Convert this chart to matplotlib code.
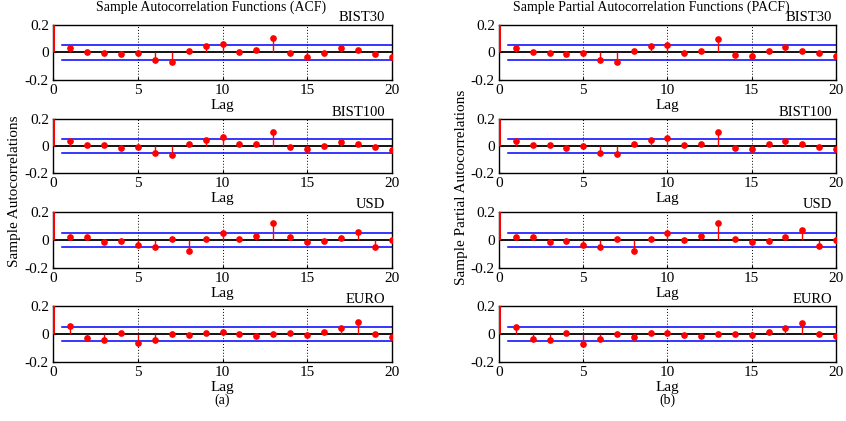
import numpy as np
import matplotlib
matplotlib.use('Agg')
import matplotlib.pyplot as plt

plt.rcParams['font.family'] = ['Liberation Serif', 'DejaVu Serif']

lags = np.arange(0, 21)
series = ['BIST30', 'BIST100', 'USD', 'EURO']
conf = 0.052

# lag 0 is always 1
acf_bist30 = [1, 0.034, 0.002, -0.002, -0.01, -0.003, -0.054, -0.068, 0.01, 0.049, 0.063,
              0.003, 0.017, 0.105, -0.007, -0.03, -0.003, 0.03, 0.017, -0.008, -0.03]
acf_bist100 = [1, 0.039, 0.01, 0.005, -0.012, -0.005, -0.05, -0.063, 0.017, 0.046, 0.065,
               0.012, 0.019, 0.108, -0.007, -0.024, 0.002, 0.027, 0.017, -0.007, -0.029]
acf_usd = [1, 0.022, 0.019, -0.012, -0.01, -0.039, -0.048, 0.007, -0.075, 0.007, 0.048,
           0.005, 0.031, 0.12, 0.019, -0.012, -0.01, 0.017, 0.058, -0.048, 0.0]
acf_euro = [1, 0.055, -0.031, -0.043, 0.005, -0.067, -0.041, 0.0, -0.01, 0.01, 0.014,
            0.0, -0.014, -0.002, 0.005, -0.01, 0.017, 0.043, 0.089, 0.0, -0.019]

pacf_bist30 = [1, 0.029, 0.0, -0.002, -0.012, -0.005, -0.055, -0.067, 0.01, 0.043, 0.055,
               -0.002, 0.012, 0.096, -0.017, -0.029, 0.007, 0.036, 0.01, -0.005, -0.024]
pacf_bist100 = [1, 0.039, 0.007, 0.005, -0.012, -0.002, -0.05, -0.058, 0.019, 0.046, 0.063,
                0.007, 0.014, 0.104, -0.014, -0.019, 0.014, 0.036, 0.014, -0.005, -0.024]
pacf_usd = [1, 0.022, 0.019, -0.012, -0.007, -0.036, -0.048, 0.01, -0.075, 0.007, 0.048,
            -0.002, 0.031, 0.118, 0.005, -0.012, -0.007, 0.022, 0.075, -0.041, -0.002]
pacf_euro = [1, 0.053, -0.034, -0.041, 0.01, -0.07, -0.034, 0.0, -0.019, 0.007, 0.01,
             -0.007, -0.014, -0.002, 0.002, -0.01, 0.017, 0.041, 0.082, -0.002, -0.014]

acf = [acf_bist30, acf_bist100, acf_usd, acf_euro]
pacf = [pacf_bist30, pacf_bist100, pacf_usd, pacf_euro]

fig = plt.figure(figsize=(8.46, 4.21), dpi=100)

col_left = [0.0627, 0.590]
col_w = [0.4007, 0.398]
row_bottom = [0.810, 0.589, 0.3634, 0.140]
row_h = [0.131, 0.128, 0.133, 0.133]

titles = ['Sample Autocorrelation Functions (ACF)', 'Sample Partial Autocorrelation Functions (PACF)']
title_x = [0.25, 0.7695]
name_x = [0.98, 0.99]
ylabels = ['Sample Autocorrelations', 'Sample Partial Autocorrelations']
ylab_y = [0.545, 0.555]
tags = ['(a)', '(b)']


def stem_panel(ax, vals, name, nx):
	vals = np.asarray(vals)
	lw = [2.2] + [1.0] * (len(lags) - 1)
	ax.vlines(lags, 0, vals, color='red', linewidths=lw, zorder=3)
	ax.plot(lags[1:], vals[1:], 'o', color='red', ms=3.8, zorder=4)
	ax.axhline(0, color='black', lw=1.3, zorder=2)
	ax.plot([0.5, 20], [conf, conf], color='blue', lw=1.1, zorder=2)
	ax.plot([0.5, 20], [-conf, -conf], color='blue', lw=1.1, zorder=2)
	ax.set_xlim(0, 20)
	ax.set_ylim(-0.2, 0.2)
	ax.set_xticks([0, 5, 10, 15, 20])
	ax.set_yticks([-0.2, 0, 0.2])
	ax.set_yticklabels(['-0.2', '0', '0.2'])
	for x in [5, 10, 15]:
		ax.axvline(x, color='black', lw=0.7, ls=(0, (1, 2)), zorder=1)
	ax.tick_params(direction='in', length=2, labelsize=11, pad=3)
	for s in ax.spines.values():
		s.set_linewidth(1.0)
	ax.set_xlabel('Lag', fontsize=11, labelpad=1)
	ax.text(nx, 1.01, name, transform=ax.transAxes, ha='right', va='bottom', fontsize=10.5)


for c in range(2):
	data = [acf, pacf][c]
	for r in range(4):
		ax = fig.add_axes([col_left[c], row_bottom[r], col_w[c], row_h[r]])
		stem_panel(ax, data[r], series[r], name_x[c])
	fig.text(title_x[c], 0.982, titles[c], ha='center', va='center', fontsize=10)
	fig.text(col_left[c] - 0.045, ylab_y[c], ylabels[c], rotation=90, ha='center', va='center', fontsize=11)
	fig.text(col_left[c] + col_w[c] / 2, 0.05, tags[c], ha='center', va='center', fontsize=10)

fig.savefig('out.png', dpi=100)
